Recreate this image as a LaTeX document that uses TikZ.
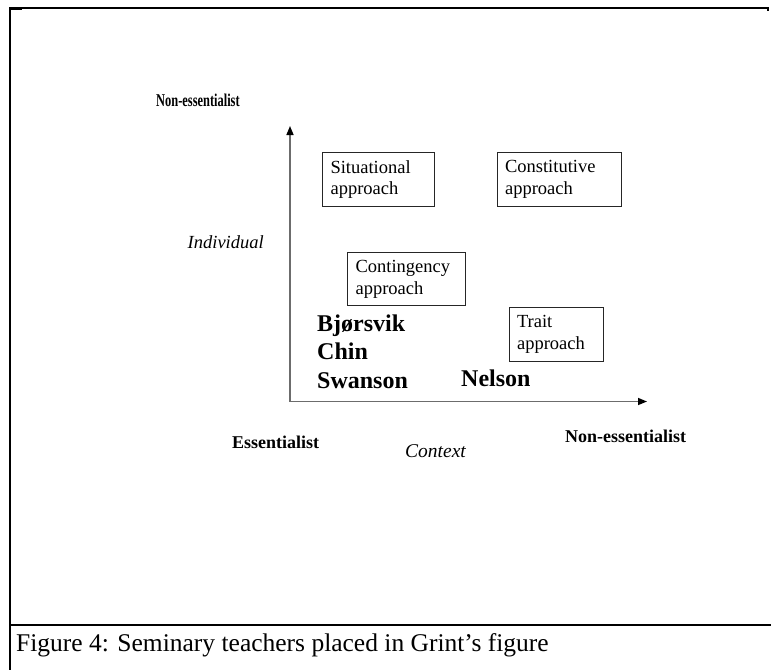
\documentclass[tikz,border=0pt]{standalone}
\usepackage{fontspec}
\setmainfont{Liberation Serif}
\usetikzlibrary{arrows.meta}

\tikzset{
  frameline/.style={line width=2pt, black},
  axisline/.style={line width=1.5pt, gray!85!black,
    {Triangle[length=9pt,width=7pt,color=black]}-{Triangle[length=9pt,width=7pt,color=black]}},
  approachbox/.style={draw=black!85, text=black, line width=1.1pt, anchor=north west,
    inner xsep=8pt, inner ysep=0pt, align=left,
    font=\fontsize{18.5}{21.7}\selectfont},
  teacher/.style={anchor=base west, inner sep=0pt,
    font=\fontsize{24}{28}\selectfont\bfseries},
  polelabel/.style={anchor=base west, inner sep=0pt,
    font=\fontsize{18}{21}\selectfont\bfseries},
  dimlabel/.style={anchor=base west, inner sep=0pt,
    font=\fontsize{18.5}{21}\selectfont\itshape},
}

\begin{document}
\begin{tikzpicture}[x=1pt, y=-1pt]
  \useasboundingbox (0,0) rectangle (771,670);
  \fill[white] (0,0) rectangle (771,670);

  % outer frame and caption separator
  \draw[frameline] (9,8) -- (768,8) -- (768,11);
  \draw[line width=3pt] (9,8.5) -- (22,8.5);
  \draw[frameline] (9.5,8) -- (9.5,670);
  \draw[line width=2.5pt] (9.5,625) -- (771,625);

  % axes
  \coordinate (ytip) at (290,126);
  \coordinate (origin) at (290,401.5);
  \coordinate (xtip) at (647,401.5);
  \draw[axisline] (ytip) -- (origin) -- (xtip);

  % approach boxes
  \node[approachbox, text width=96pt, minimum height=54pt] (situational) at (322,152)
    {Situational\\approach};
  \node[approachbox, text width=108pt, minimum height=54pt] (constitutive) at (496.5,152)
    {Constitutive\\approach};
  \node[approachbox, text width=102pt, minimum height=53pt] (contingency) at (347,252)
    {Contingency\\approach};
  \node[approachbox, text width=78pt, minimum height=54pt] (trait) at (508.5,307)
    {Trait\\approach};

  % teachers
  \node[teacher] (bjorsvik) at (317,331) {Bjørsvik};
  \node[teacher] (chin) at (317,359) {Chin};
  \node[teacher] (swanson) at (317,388) {Swanson};
  \node[teacher] (nelson) at (461,386) {Nelson};

  % pole and dimension labels
  \node[polelabel] (topnon) at (156,106) {\scalebox{0.69}[1]{Non-essentialist}};
  \node[dimlabel] (individual) at (187.5,248.5) {Individual};
  \node[polelabel] (essentialist) at (232,448) {Essentialist};
  \node[dimlabel, font=\fontsize{19.5}{22}\selectfont\itshape] (context) at (405,457) {Context};
  \node[polelabel] (rightnon) at (565,442) {Non-essentialist};

  % caption
  \node[anchor=base west, inner sep=0pt, font=\fontsize{25.5}{30}\selectfont]
    (caption) at (16,651) {Figure 4: Seminary teachers placed in Grint’s figure};
\end{tikzpicture}
\end{document}
